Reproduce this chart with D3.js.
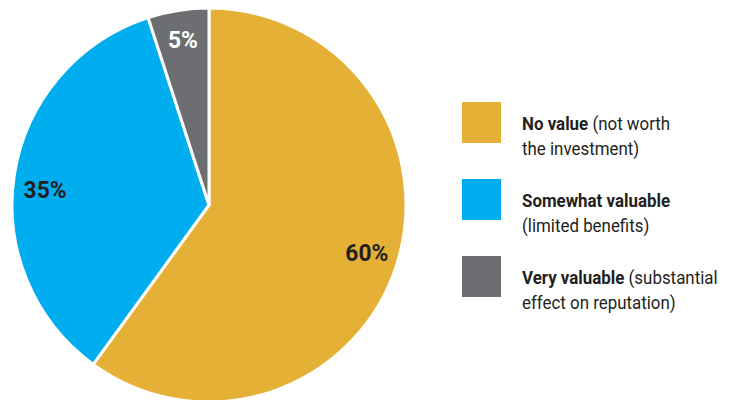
<!DOCTYPE html>
<html>
<head>
<meta charset="utf-8">
<script src="https://cdn.jsdelivr.net/npm/d3@7"></script>
<style>
  body { margin: 0; background: #fff; }
  svg { display: block; font-family: Roboto, "Liberation Sans", sans-serif; }
</style>
</head>
<body>
<svg id="chart" width="743" height="400"></svg>
<script>
// data
var categories = ["No value", "Somewhat valuable", "Very valuable"];
var shares = [60, 35, 5];
var notes = [["(not worth", "the investment)"], ["", "(limited benefits)"], ["(substantial", "effect on reputation)"]];
var colors = ["#E4B036", "#00AEEF", "#6D6E71"];
var labelColors = ["#231F20", "#231F20", "#ffffff"];

var data = categories.map(function(c, i) {
    return {name: c, value: shares[i], note: notes[i], color: colors[i], lab: labelColors[i]};
});

var svg = d3.select("#chart"),
    cx = 209, cy = 205, radius = 197;

var pie = d3.pie()
    .sort(null)
    .value(d => d.value);

var arc = d3.arc().innerRadius(0).outerRadius(radius);
var labelArc = d3.arc().innerRadius(167).outerRadius(167);
// small hand nudges so the labels sit where the original put them
var nudge = [[-1, -4], [1, 10], [0, -1]];

var g = svg.append("g")
    .attr("transform", "translate(" + cx + "," + cy + ")");

var slices = g.selectAll(".slice")
    .data(pie(data))
    .enter().append("g")
    .attr("class", "slice");

slices.append("path")
    .attr("d", arc)
    .style("fill", d => d.data.color)
    .style("stroke", "#fff")
    .style("stroke-width", 3);

slices.append("text")
    .attr("transform", function(d, i) {
        var c = labelArc.centroid(d);
        return "translate(" + (c[0] + nudge[i][0]) + "," + (c[1] + nudge[i][1]) + ") scale(0.95,1)";
    })
    .attr("dy", "0.36em")
    .attr("text-anchor", "middle")
    .style("font-size", "24px")
    .style("font-weight", "bold")
    .style("fill", d => d.data.lab)
    .text(d => d.data.value + "%");

// legend
var legend = svg.selectAll(".legend")
    .data(data)
    .enter().append("g")
    .attr("class", "legend")
    .attr("transform", (d, i) => "translate(462," + (102 + i * 77) + ")");

legend.append("rect")
    .attr("width", 39)
    .attr("height", 41)
    .style("fill", d => d.color);

var txt = legend.append("text")
    .attr("transform", "translate(60,28) scale(0.89,1)")
    .style("font-size", "19px")
    .style("fill", "#231F20");

txt.append("tspan")
    .style("font-weight", "bold")
    .text(d => d.name);

txt.append("tspan")
    .text(d => d.note[0] ? " " + d.note[0] : "");

legend.append("text")
    .attr("transform", "translate(60,53) scale(0.89,1)")
    .style("font-size", "19px")
    .style("fill", "#231F20")
    .text(d => d.note[1]);
</script>
</body>
</html>
